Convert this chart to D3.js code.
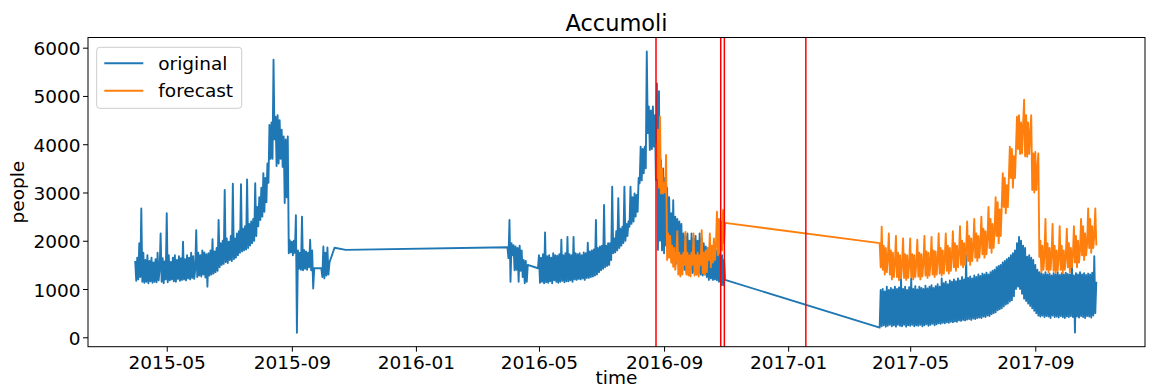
<!DOCTYPE html>
<html>
<head>
<meta charset="utf-8">
<script src="https://cdn.jsdelivr.net/npm/d3@7"></script>
<style>
  body { margin: 0; background: #fff; }
  svg { display: block; font-family: "DejaVu Sans", sans-serif; }
</style>
</head>
<body>
<svg id="chart" width="1153" height="390"></svg>
<script>
/* Accumoli — original vs forecast people count, earthquake dates in red */

const TITLE = 'Accumoli';
const X_LABEL = 'time';
const Y_LABEL = 'people';
const X_TICKS = ['2015-05-01', '2015-09-01', '2016-01-01', '2016-05-01', '2016-09-01', '2017-01-01', '2017-05-01', '2017-09-01'];
const Y_TICKS = [0, 1000, 2000, 3000, 4000, 5000, 6000];
const X_DOMAIN = ['2015-02-12T14:00Z', '2017-12-17T21:00Z'];
const Y_DOMAIN = [-195, 6211];
const EVENTS = ['2016-08-24T01:36Z', '2016-10-26T17:10Z', '2016-10-30T06:40Z', '2017-01-18T09:25Z'];
const LEGEND = ['original', 'forecast'];

// readings, one value per day from the start date (day highs and lows alternate)
const origA1Start = '2015-03-31';
const origA1 = [
  1580, 1170, 1650, 1200, 1950, 1250, 2670, 1150, 1750, 1130,
  1600, 1150, 1700, 1120, 1580, 1160, 1650, 1130, 1550, 1150,
  1620, 1140, 1750, 1180, 1400, 2150, 1150, 1640, 1120, 1570,
  1200, 2570, 1140, 1700, 1180, 1560, 1200, 1650, 1160, 1700,
  1150, 1600, 1210, 1680, 1170, 1640, 1190, 1980, 1200, 1620,
  1180, 1700, 1220, 1650, 1200, 1750, 1230, 1680, 1210, 1400,
  2220, 1250, 1750, 1280, 1700, 1260, 1800, 1300, 1760, 1240,
  1720, 1050, 1740, 1280, 1800, 1300, 2030, 1320, 1780, 1350,
  1850, 1380, 2430, 1450, 1950, 1500, 2000, 1520, 3050, 1560,
  2050, 1540, 1980, 1600, 2100, 1580, 3180, 1620, 2050, 1650,
  2150, 1700, 2200, 1750, 3170, 1780, 2250, 1800, 2300, 1820,
  3270, 1850, 2350, 1900, 2400, 1950, 2450, 2000, 3190, 2100,
  2700, 2300, 2900, 2430, 3100, 2500, 3400, 2600, 3300, 2800,
  3600, 3200, 4400, 3700, 4450, 3700, 5750, 4100, 4570, 3550,
  4600, 3600, 4500, 3700, 4300, 3530, 4160, 2780, 4100, 2900,
  4160, 1740, 2010, 1760, 1980, 1700, 2000, 1750, 2530, 95,
  1800, 1420, 1750, 1400, 2500, 1390, 1810, 1420, 1780, 1400,
  1750, 1450, 2020, 1390, 1800, 1010, 1430
];
const origA2Start = '2015-09-30';
const origA2 = [1430, 1250, 1880, 1220, 1750, 1280, 1860, 1300, 1550];
const origSparse = [['2015-10-13', 1856], ['2015-10-24', 1810]];
const origB1Start = '2016-03-31';
const origB1 = [
  1865, 1640, 2430, 1150, 1950, 1700, 1910, 1390, 1880, 1400,
  1850, 1150, 1900, 1380, 1800, 1250, 1600, 1120, 1580, 1150,
  1500
];
const origB2Start = '2016-04-30';
const origB2 = [
  1430, 1700, 1130, 1650, 1150, 1720, 1120, 2170, 1140, 1680,
  1130, 1700, 1160, 1650, 1120, 1740, 1180, 1700, 1150, 1690,
  1130, 1720, 1150, 2020, 1170, 1700, 1140, 1740, 1160, 2080,
  1160, 1720, 1180, 1700, 1150, 2080, 1200, 1740, 1190, 1720,
  1210, 1740, 1200, 1700, 1220, 1760, 1190, 1740, 1230, 1960,
  1230, 1780, 1250, 1800, 1260, 1820, 1280, 2430, 1300, 1850,
  1350, 1880, 1390, 1900, 1420, 2740, 1450, 1900, 1480, 1950,
  1500, 1950, 1600, 3120, 1740, 2050, 1760, 2200, 1800, 2880,
  1850, 2250, 1900, 2290, 1950, 3120, 2000, 2350, 2100, 2400,
  2290, 3120, 2350, 2900, 2400, 2980, 2500, 2950, 2600, 3300,
  3190, 3950, 3250, 3900, 3400, 3950, 3500, 5920, 4230, 4780,
  3880, 4700, 3900, 4780, 3950, 4600, 3260, 5260, 1810, 5100,
  2000, 3670, 1800, 3500, 1740, 3300, 1900, 3100, 1850, 2900,
  1700, 2570, 1550, 2840, 1600, 2500, 1530, 2450, 1600, 2400,
  1530, 2350, 1500, 2150, 1400, 2100, 1350, 2150, 1330, 2000,
  1400, 2150, 1330, 2050, 1350, 2100, 1300, 2000, 1330, 2150,
  1300, 2050, 1280, 1950, 1300, 1880, 1250, 1850, 1190, 1880,
  1220, 1800, 1190, 1850, 1200, 1800, 1180, 1880, 1150, 1750,
  1080, 1700, 1080, 1600, 1190
];
const origCStart = '2017-04-01';
const origC = [
  200, 980, 230, 1000, 250, 950, 220, 1050, 240, 980,
  260, 1020, 230, 990, 250, 1050, 220, 1000, 260, 1030,
  240, 1220, 230, 1000, 260, 1050, 220, 980, 250, 1040,
  240, 1220, 260, 1000, 230, 1060, 250, 990, 240, 1050,
  260, 1020, 230, 1000, 250, 1070, 270, 1010, 240, 1050,
  260, 1080, 280, 1020, 250, 1060, 270, 1100, 290, 1050,
  280, 1220, 300, 1120, 290, 1150, 310, 1100, 300, 1180,
  320, 1150, 310, 1200, 330, 1160, 320, 1220, 350, 1180,
  340, 1250, 360, 1200, 350, 1700, 370, 1230, 380, 1260,
  360, 1220, 390, 1280, 380, 1250, 400, 1300, 410, 1270,
  400, 1320, 430, 1300, 420, 1340, 450, 1300, 440, 1350,
  480, 1380, 500, 1400, 520, 1450, 560, 1480, 580, 1500,
  600, 1550, 640, 1580, 680, 1620, 700, 1650, 740, 1700,
  770, 1740, 850, 1800, 1000, 1950, 1050, 2080, 1000, 2000,
  900, 1900, 800, 1850, 750, 1670, 700, 1700, 650, 1650,
  600, 1600, 550, 1500, 500, 1400, 450, 1350, 430, 1330,
  450, 1300, 420, 1350, 440, 1300, 430, 1320, 400, 1280,
  450, 1330, 420, 1300, 430, 1350, 410, 1290, 440, 1330,
  420, 1300, 400, 1340, 430, 1310, 420, 1300, 440, 1640,
  420, 1280, 100, 1330, 430, 1300, 410, 1350, 440, 1300,
  420, 1330, 400, 1290, 440, 1320, 430, 1300, 410, 1340,
  450, 1680, 500, 1150
];

const foreBStart = '2016-08-24';
const foreB = [
  4020, 3300, 4300, 3100, 4570, 2980, 3500, 2980, 3200, 3000,
  3780, 1600, 2150, 1650, 2100, 1550, 1900, 1460, 1850, 1400,
  1650, 2200, 1300, 1750, 1260, 1700, 1300, 1750, 1500, 2180,
  1300, 1750, 1280, 1700, 1260, 1750, 1500, 2150, 1280, 1700,
  1300, 1750, 1260, 1700, 1500, 2220, 1330, 1750, 1300, 1800,
  1350, 1850, 1600, 2150, 1450, 1900, 1550, 2050, 1600, 1900,
  2600, 1700, 2450, 1740, 2400, 1800, 2640, 1950, 2370
];
const foreCStart = '2017-04-01';
const foreC = [
  1950, 1450,
  2290, 1400, 1900, 1300, 1850, 1350, 1650,
  2150, 1300, 1800, 1200, 1750, 1250, 1550,
  2100, 1250, 1750, 1180, 1700, 1220, 1500,
  2050, 1230, 1720, 1190, 1700, 1230, 1500,
  2050, 1250, 1720, 1200, 1700, 1250, 1520,
  2020, 1260, 1750, 1200, 1720, 1260, 1540,
  2100, 1280, 1780, 1230, 1750, 1280, 1560,
  2080, 1300, 1800, 1250, 1780, 1300, 1580,
  2150, 1320, 1850, 1280, 1800, 1320, 1620,
  2150, 1380, 1900, 1320, 1850, 1380, 1680,
  2200, 1450, 1950, 1380, 1900, 1450, 1750,
  2300, 1500, 2000, 1450, 1950, 1500, 1800,
  2400, 1580, 2100, 1500, 2050, 1580, 1880,
  2450, 1650, 2150, 1580, 2100, 1650, 1950,
  2500, 1720, 2250, 1650, 2200, 1720, 2050,
  2700, 1850, 2450, 1750, 2350, 1850, 2200,
  2900, 2100, 2800, 1950, 2650, 2100, 2700,
  3400, 2700, 3300, 2570, 3150, 2700, 3300,
  3950, 3300, 3900, 3100, 3750, 3300, 3900,
  4570, 3900, 4600, 3800, 4450, 3810, 4400,
  4920, 3750, 4600, 3740, 4450, 3800, 4200,
  4600, 3050, 3810, 3000, 3840, 3050, 3500,
  3810, 1670, 2000, 1350, 1900, 1400, 1700,
  2450, 1400, 1950, 1350, 1850, 1400, 1700,
  2350, 1380, 1900, 1330, 1800, 1380, 1650,
  2300, 1400, 1900, 1330, 1800, 1400, 1650,
  2250, 1450, 1950, 1350, 1850, 1450, 1700,
  2300, 1550, 2100, 1450, 2000, 1550, 1800,
  2450, 1700, 2300, 1600, 2150, 1700, 1950,
  2670, 1850, 2450, 1750, 2300, 1850, 2100,
  2670, 1900
];

const COLORS = { original: '#1f77b4', forecast: '#ff7f0e', event: '#ff0000' };

// ── helpers
const parse = s => new Date(s.length === 10 ? s + 'T00:00Z' : s);
const daily = (start, vals) => {
  const t0 = parse(start);
  return vals.map((v, i) => ({ t: d3.utcDay.offset(t0, i), v }));
};

const original = [
  ...daily(origA1Start, origA1),
  ...daily(origA2Start, origA2),
  ...origSparse.map(([s, v]) => ({ t: parse(s), v })),
  ...daily(origB1Start, origB1),
  ...daily(origB2Start, origB2),
  ...daily(origCStart, origC)
];
const forecast = [
  ...daily(foreBStart, foreB),
  ...daily(foreCStart, foreC)
];

// ── layout
const svg = d3.select('#chart');
const plot = { left: 88, right: 1145, top: 37.5, bottom: 346.7 };
const FONT = 18.5;

const x = d3.scaleUtc().domain(X_DOMAIN.map(parse)).range([plot.left, plot.right]);
const y = d3.scaleLinear().domain(Y_DOMAIN).range([plot.bottom, plot.top]);

svg.append('defs').append('clipPath').attr('id', 'clip')
  .append('rect')
  .attr('x', plot.left).attr('y', plot.top)
  .attr('width', plot.right - plot.left).attr('height', plot.bottom - plot.top);

const g = svg.append('g').attr('clip-path', 'url(#clip)');

const line = d3.line().x(d => x(d.t)).y(d => y(d.v));

g.append('path').datum(original)
  .attr('d', line)
  .attr('fill', 'none')
  .attr('stroke', COLORS.original)
  .attr('stroke-width', 1.9)
  .attr('stroke-linejoin', 'round');

g.append('path').datum(forecast)
  .attr('d', line)
  .attr('fill', 'none')
  .attr('stroke', COLORS.forecast)
  .attr('stroke-width', 1.9)
  .attr('stroke-linejoin', 'round');

g.selectAll('.event').data(EVENTS.map(parse)).join('line')
  .attr('class', 'event')
  .attr('x1', d => x(d)).attr('x2', d => x(d))
  .attr('y1', plot.top).attr('y2', plot.bottom)
  .attr('stroke', COLORS.event)
  .attr('stroke-width', 1.5);

// ── axes
const xAxis = svg.append('g')
  .attr('transform', `translate(0,${plot.bottom})`)
  .call(d3.axisBottom(x)
    .tickValues(X_TICKS.map(parse))
    .tickFormat(d3.utcFormat('%Y-%m'))
    .tickSize(5).tickPadding(4));

const yAxis = svg.append('g')
  .attr('transform', `translate(${plot.left},0)`)
  .call(d3.axisLeft(y)
    .tickValues(Y_TICKS)
    .tickFormat(d3.format('d'))
    .tickSize(5).tickPadding(2.5));

[xAxis, yAxis].forEach(a => {
  a.select('.domain').remove();
  a.selectAll('.tick line').attr('stroke', '#000').attr('stroke-width', 1);
  a.selectAll('.tick text')
    .attr('fill', '#000')
    .style('font-size', FONT + 'px')
    .style('font-family', '"DejaVu Sans", sans-serif');
});
yAxis.selectAll('.tick text').attr('dy', '0.38em');

// frame
svg.append('rect')
  .attr('x', plot.left).attr('y', plot.top)
  .attr('width', plot.right - plot.left).attr('height', plot.bottom - plot.top)
  .attr('fill', 'none').attr('stroke', '#000').attr('stroke-width', 1);

// ── titles
svg.append('text')
  .attr('x', (plot.left + plot.right) / 2).attr('y', 31)
  .attr('text-anchor', 'middle')
  .style('font-size', '22.5px')
  .text(TITLE);

svg.append('text')
  .attr('x', (plot.left + plot.right) / 2).attr('y', 384)
  .attr('text-anchor', 'middle')
  .style('font-size', FONT + 'px')
  .text(X_LABEL);

svg.append('text')
  .attr('transform', `translate(24,${(plot.top + plot.bottom) / 2}) rotate(-90)`)
  .attr('text-anchor', 'middle')
  .style('font-size', FONT + 'px')
  .text(Y_LABEL);

// ── legend
const legend = svg.append('g');
legend.append('rect')
  .attr('x', 96.7).attr('y', 47.3)
  .attr('width', 145).attr('height', 61)
  .attr('rx', 3)
  .attr('fill', '#fff').attr('fill-opacity', 0.8)
  .attr('stroke', '#ccc').attr('stroke-width', 1);

const rows = legend.selectAll('.row').data(LEGEND).join('g')
  .attr('class', 'row')
  .attr('transform', (d, i) => `translate(0,${63.3 + i * 27.4})`);
rows.append('line')
  .attr('x1', 104.3).attr('x2', 143.3)
  .attr('stroke', d => COLORS[d]).attr('stroke-width', 1.9);
rows.append('text')
  .attr('x', 158.3).attr('y', 6.6)
  .style('font-size', FONT + 'px')
  .text(d => d);
</script>
</body>
</html>
